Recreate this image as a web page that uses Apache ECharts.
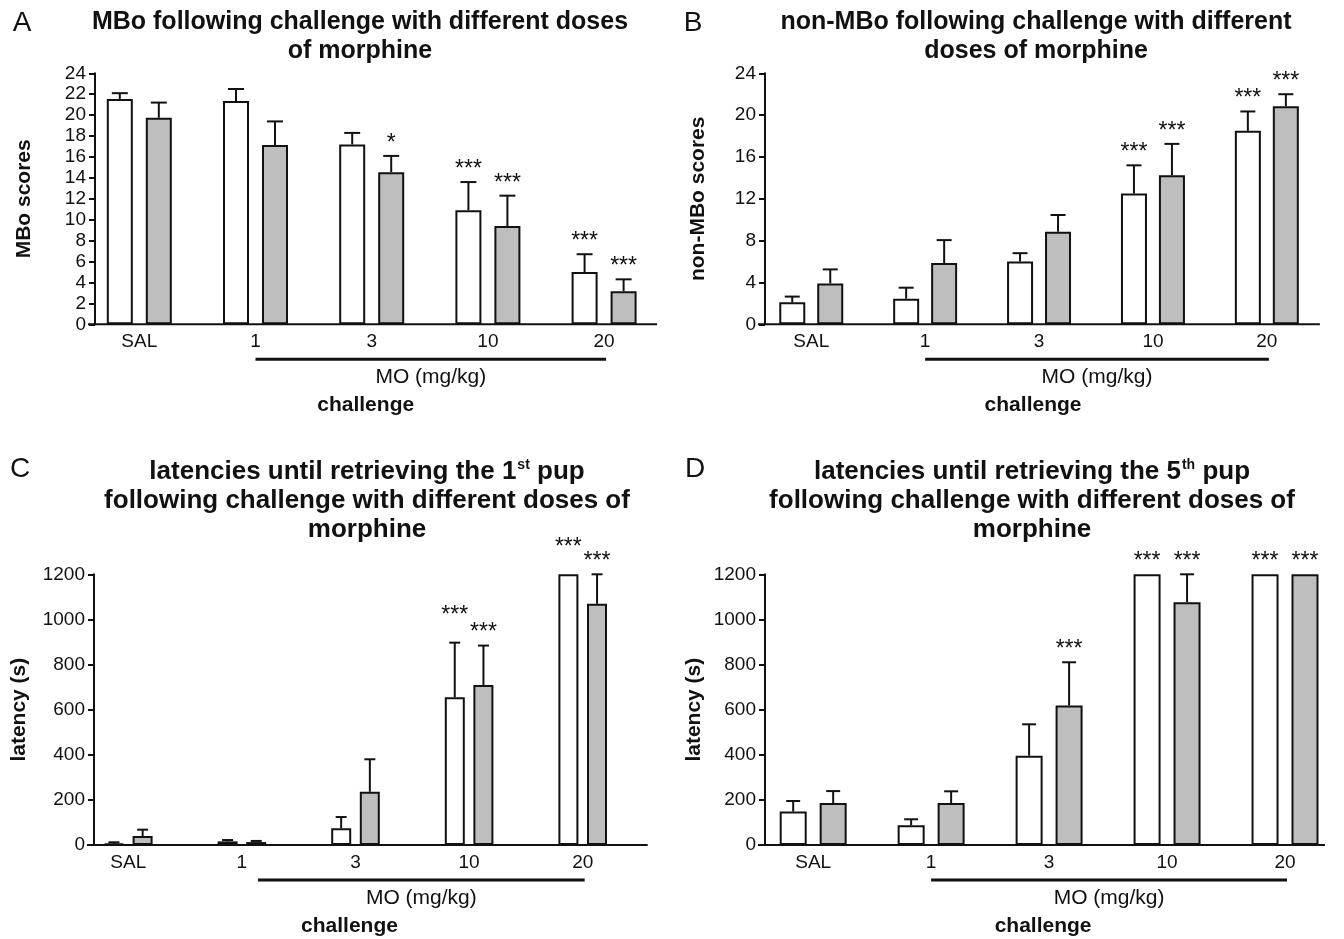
<!DOCTYPE html>
<html>
<head>
<meta charset="utf-8">
<script src="https://cdn.jsdelivr.net/npm/echarts@6/dist/echarts.min.js"></script>
<style>
html, body { margin: 0; padding: 0; background: #fff; }
#chart { width: 1344px; height: 939px; }
</style>
</head>
<body>
<div id="chart"></div>
<script>
const doses = ['SAL', '1', '3', '10', '20']

// A - MBo scores
const mboWhite = [21.55, 21.35, 17.2, 10.9, 5.0]
const mboWhiteSem = [0.55, 1.15, 1.1, 2.7, 1.7]
const mboGray = [19.75, 17.15, 14.55, 9.4, 3.15]
const mboGraySem = [1.45, 2.25, 1.55, 2.9, 1.15]
const mboWhiteSig = ['', '', '', '***', '***']
const mboGraySig = ['', '', '*', '***', '***']

// B - non-MBo scores
const nonWhite = [2.1, 2.45, 6.0, 12.5, 18.5]
const nonWhiteSem = [0.55, 1.05, 0.8, 2.7, 1.85]
const nonGray = [3.9, 5.85, 8.85, 14.25, 20.85]
const nonGraySem = [1.35, 2.2, 1.6, 3.0, 1.15]
const nonWhiteSig = ['', '', '', '***', '***']
const nonGraySig = ['', '', '', '***', '***']

// C - latency 1st pup
const lat1White = [6, 16, 74, 655, 1200]
const lat1WhiteSem = [6, 6, 50, 242, 0]
const lat1Gray = [40, 13, 236, 709, 1069]
const lat1GraySem = [28, 5, 144, 175, 131]
const lat1WhiteSig = ['', '', '', '***', '***']
const lat1GraySig = ['', '', '', '***', '***']

// D - latency 5th pup
const lat5White = [148, 87, 396, 1200, 1200]
const lat5WhiteSem = [47, 27, 139, 0, 0]
const lat5Gray = [186, 186, 618, 1076, 1200]
const lat5GraySem = [53, 52, 192, 124, 0]
const lat5WhiteSig = ['', '', '', '***', '***']
const lat5GraySig = ['', '', '***', '***', '***']

const ink = '#111'
const grayFill = '#bebebe'
const font = 'Liberation Sans'

const panels = [
  {
    letter: 'A', letterX: 22, letterY: 23,
    title: 'MBo following challenge with different doses\nof morphine', titleX: 360, titleTop: 8, titleSize: 25,
    grid: { left: 81.2, top: 73.3, width: 581, height: 251 },
    yMax: 24, yInterval: 2, yOffset: -13.8, yName: 'MBo scores', nameGap: 60,
    barW: 26, gap: 13, cap: 16, bracketShift: 0, axisTail: 53, whiteLift: 0,
    white: mboWhite, whiteSem: mboWhiteSem, whiteSig: mboWhiteSig,
    gray: mboGray, graySem: mboGraySem, graySig: mboGraySig
  },
  {
    letter: 'B', letterX: 693, letterY: 23,
    title: 'non-MBo following challenge with different\ndoses of morphine', titleX: 1036, titleTop: 8, titleSize: 25,
    grid: { left: 754.3, top: 73.3, width: 569.5, height: 251 },
    yMax: 24, yInterval: 4, yOffset: -10.7, yName: 'non-MBo scores', nameGap: 56,
    barW: 26, gap: 12, cap: 15, bracketShift: 0, axisTail: 53, whiteLift: 0,
    white: nonWhite, whiteSem: nonWhiteSem, whiteSig: nonWhiteSig,
    gray: nonGray, graySem: nonGraySem, graySig: nonGraySig
  },
  {
    letter: 'C', letterX: 20, letterY: 469,
    title: 'latencies until retrieving the 1{sup|st} pup\nfollowing challenge with different doses of\nmorphine', titleX: 367, titleTop: 457, titleSize: 26,
    grid: { left: 71.5, top: 574.3, width: 568, height: 270.7 },
    yMax: 1200, yInterval: 200, yOffset: -22.5, yName: 'latency (s)', nameGap: 64,
    barW: 20, gap: 8.7, cap: 11, bracketShift: 16, axisTail: 65, whiteLift: 14,
    white: lat1White, whiteSem: lat1WhiteSem, whiteSig: lat1WhiteSig,
    gray: lat1Gray, graySem: lat1GraySem, graySig: lat1GraySig
  },
  {
    letter: 'D', letterX: 695, letterY: 469,
    title: 'latencies until retrieving the 5{sup|th} pup\nfollowing challenge with different doses of\nmorphine', titleX: 1032, titleTop: 457, titleSize: 26,
    grid: { left: 754.2, top: 574.3, width: 598, height: 270.7 },
    yMax: 1200, yInterval: 200, yOffset: -10.8, yName: 'latency (s)', nameGap: 60,
    barW: 27, gap: 13, cap: 14, bracketShift: 0, axisTail: 40, whiteLift: 0,
    white: lat5White, whiteSem: lat5WhiteSem, whiteSig: lat5WhiteSig,
    gray: lat5Gray, graySem: lat5GraySem, graySig: lat5GraySig
  }
]

// error bar + significance stars, shifted to the bar's slot in the group
function errorBars (sig, dx, cap, lift) {
  return function (params, api) {
    const i = api.value(0)
    const mean = api.value(1)
    const sem = api.value(2)
    const p0 = api.coord([i, mean])
    const p1 = api.coord([i, mean + sem])
    const x = p0[0] + dx
    const kids = []
    if (sem > 0) {
      kids.push({ type: 'line', shape: { x1: x, y1: p0[1], x2: x, y2: p1[1] }, style: { stroke: ink, lineWidth: 2 } })
      kids.push({ type: 'line', shape: { x1: x - cap / 2, y1: p1[1], x2: x + cap / 2, y2: p1[1] }, style: { stroke: ink, lineWidth: 2 } })
    }
    if (sig[i]) {
      kids.push({
        type: 'text',
        style: {
          text: sig[i], x: x, y: p1[1] - 1 - lift,
          align: 'center', verticalAlign: 'bottom', textAlign: 'center', textVerticalAlign: 'bottom',
          fontSize: 23, fontFamily: font, fill: ink
        }
      })
    }
    return { type: 'group', children: kids }
  }
}

const grids = []
const xAxes = []
const yAxes = []
const titles = []
const series = []

panels.forEach(function (p, k) {
  grids.push(p.grid)
  xAxes.push({
    type: 'category', gridIndex: k, data: doses,
    axisLine: { show: false },
    axisTick: { show: false },
    axisLabel: { color: ink, fontSize: 19, fontFamily: font, margin: 8 }
  })
  yAxes.push({
    type: 'value', gridIndex: k, min: 0, max: p.yMax, interval: p.yInterval, offset: p.yOffset,
    axisLine: { show: true, lineStyle: { color: ink, width: 2 } },
    axisTick: { show: true, length: 6, lineStyle: { color: ink, width: 2 } },
    axisLabel: { color: ink, fontSize: 19, fontFamily: font, margin: 9, formatter: function (v) { return String(v) } },
    splitLine: { show: false },
    name: p.yName, nameLocation: 'middle', nameRotate: 90, nameGap: p.nameGap,
    nameTextStyle: { color: ink, fontSize: 21, fontWeight: 'bold', fontFamily: font }
  })
  titles.push({
    text: p.title, left: p.titleX, top: p.titleTop, textAlign: 'center', padding: 0,
    textStyle: {
      color: ink, fontSize: p.titleSize, fontWeight: 'bold', fontFamily: font, lineHeight: 29,
      rich: { sup: { fontSize: 14, fontWeight: 'bold', fontFamily: font, color: ink, verticalAlign: 'top', lineHeight: 14, padding: [1, 0, 0, 1] } }
    }
  })
  const gapPct = Math.round(p.gap / p.barW * 100) + '%'
  series.push({
    type: 'bar', xAxisIndex: k, yAxisIndex: k, data: p.white, barWidth: p.barW, barGap: gapPct,
    itemStyle: { color: '#fff', borderColor: ink, borderWidth: 2 }, silent: true
  })
  series.push({
    type: 'bar', xAxisIndex: k, yAxisIndex: k, data: p.gray, barWidth: p.barW, barGap: gapPct,
    itemStyle: { color: grayFill, borderColor: ink, borderWidth: 2 }, silent: true
  })
  const dx = (p.barW + p.gap) / 2
  series.push({
    type: 'custom', xAxisIndex: k, yAxisIndex: k, z: 5, silent: true,
    renderItem: errorBars(p.whiteSig, -dx, p.cap, p.whiteLift),
    data: p.white.map(function (v, i) { return [i, v, p.whiteSem[i]] })
  })
  series.push({
    type: 'custom', xAxisIndex: k, yAxisIndex: k, z: 5, silent: true,
    renderItem: errorBars(p.graySig, dx, p.cap, 0),
    data: p.gray.map(function (v, i) { return [i, v, p.graySem[i]] })
  })
})

const chart = echarts.init(document.getElementById('chart'))
chart.setOption({
  animation: false,
  backgroundColor: '#fff',
  title: titles,
  grid: grids,
  xAxis: xAxes,
  yAxis: yAxes,
  series: series
})

// panel letters, base line, dose bracket and captions placed from the axes
const graphics = []
function caption (text, x, y, size, weight) {
  return {
    type: 'text', z: 10,
    style: { text: text, x: x, y: y, align: 'center', verticalAlign: 'middle', textAlign: 'center', textVerticalAlign: 'middle', fontSize: size, fontWeight: weight, fontFamily: font, fill: ink }
  }
}
panels.forEach(function (p, k) {
  const yAxisX = p.grid.left - p.yOffset
  const x1 = chart.convertToPixel({ xAxisIndex: k }, 1) + p.bracketShift
  const x20 = chart.convertToPixel({ xAxisIndex: k }, 4)
  const x3 = chart.convertToPixel({ xAxisIndex: k }, 2)
  const y0 = chart.convertToPixel({ yAxisIndex: k }, 0)
  graphics.push({
    type: 'line', z: 10, shape: { x1: yAxisX - 7, y1: y0, x2: x20 + p.axisTail, y2: y0 }, style: { stroke: ink, lineWidth: 2 }
  })
  graphics.push({
    type: 'line', z: 10, shape: { x1: x1, y1: y0 + 35, x2: x20 + 2, y2: y0 + 35 }, style: { stroke: ink, lineWidth: 3 }
  })
  graphics.push(caption(p.letter, p.letterX, p.letterY, 28, 'normal'))
  graphics.push(caption('MO (mg/kg)', (x1 + x20 + 2) / 2, y0 + 53, 21, 'normal'))
  graphics.push(caption('challenge', x3 - 6, y0 + 81, 21, 'bold'))
})
chart.setOption({ graphic: graphics })
</script>
</body>
</html>
